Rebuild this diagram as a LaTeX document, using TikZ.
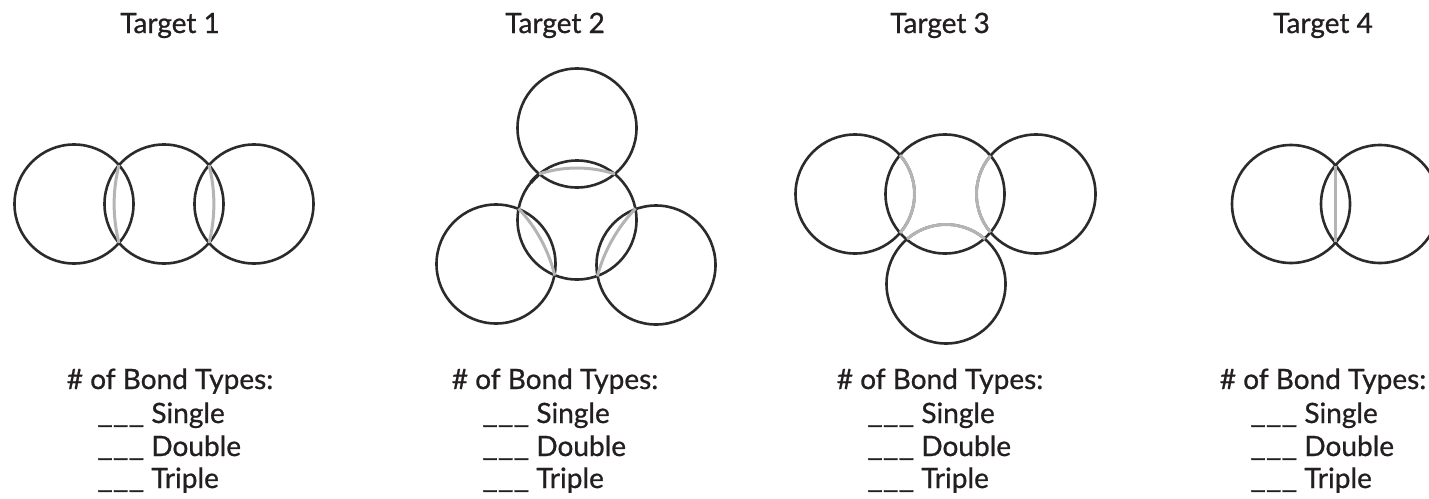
\documentclass[tikz,border=0pt]{standalone}
\usepackage{fontspec}
\setmainfont{Lato}[FakeBold=0.8]
\definecolor{ringc}{HTML}{2B2B2B}
\definecolor{bondc}{HTML}{B4B4B4}
\definecolor{txt}{HTML}{231F20}
\newcommand{\blankline}{\scalebox{1.22}[1]{\_\_\_}}
\begin{document}
\begin{tikzpicture}[x=1pt,y=-1pt,
  ring/.style={draw=ringc, line width=2.6pt},
  bond/.style={draw=bondc, line width=3pt},
  title/.style={font=\fontsize{28}{32}\selectfont, text=txt, anchor=base, inner sep=0pt},
  lbl/.style={font=\fontsize{28}{32}\selectfont, text=txt, anchor=base west, inner sep=0pt}]
\useasboundingbox (0,0) rectangle (1429,498);
% titles and text blocks
\foreach \n/\x in {1/170,2/555,3/940,4/1323}{
  \node[title] (t\n) at (\x,33) {Target \n};
  \node[title] (h\n) at (\x,389) {\# of Bond Types:};
  \node[lbl] (s\n) at (\x-73,423) {\blankline\ Single};
  \node[lbl] (d\n) at (\x-73,456) {\blankline\ Double};
  \node[lbl] (r\n) at (\x-73,488) {\blankline\ Triple};
}
% Target 1
\draw[ring] (74,204) circle[radius=59.5pt];
\draw[ring] (164,204) circle[radius=59.5pt];
\draw[ring] (254,204) circle[radius=59.5pt];
\draw[bond] (119,165) .. controls (112.5,191) and (112.5,217) .. (119,243);
\draw[bond] (209,165) .. controls (215.5,191) and (215.5,217) .. (209,243);
% Target 2
\draw[ring] (577,128) circle[radius=59.5pt];
\draw[ring] (577,220) circle[radius=59.5pt];
\draw[ring] (496,264) circle[radius=59.5pt];
\draw[ring] (656,265) circle[radius=59.5pt];
\draw[ring, line width=3.6pt] (577,220) ++(130:59.5pt) arc[start angle=130, end angle=141, radius=59.5pt];
\draw[bond] (539,174) .. controls (564,166) and (590,166) .. (615,174);
\draw[bond] (518.5,208.5) .. controls (536.3,227.5) and (548.5,250.1) .. (554.8,275.5);
\draw[bond] (635.5,208.5) .. controls (617.2,227.8) and (604.2,250.6) .. (597.3,276.3);
% Target 3
\draw[ring] (855,194) circle[radius=59.5pt];
\draw[ring] (945,194) circle[radius=59.5pt];
\draw[ring] (1036,194) circle[radius=59.5pt];
\draw[ring] (946,284) circle[radius=59.5pt];
\draw[bond] (855,194) ++(-40.9:59.5pt) arc[start angle=-40.9, end angle=40.9, radius=59.5pt];
\draw[bond] (1036,194) ++(139.9:59.5pt) arc[start angle=139.9, end angle=220.1, radius=59.5pt];
\draw[bond] (946,284) ++(49.1:59.5pt) arc[start angle=49.1, end angle=130.9, radius=59.5pt];
% Target 4
\draw[ring] (1291,204) circle[radius=59pt];
\draw[ring] (1380,204) circle[radius=59pt];
\draw[bond] (1335.5,166) -- (1335.5,242);
\end{tikzpicture}
\end{document}
